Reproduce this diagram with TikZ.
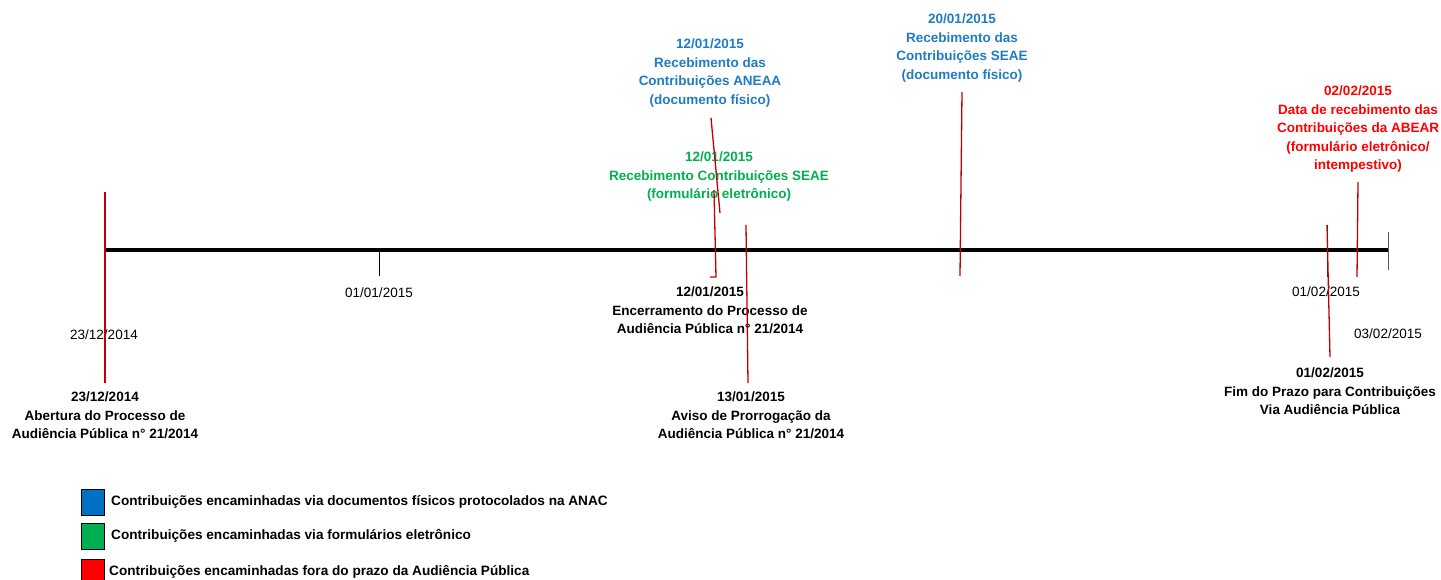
\documentclass[tikz,border=0pt]{standalone}
\usepackage{fontspec}
\setmainfont{Liberation Sans}
\usepackage{tikz}
\usetikzlibrary{positioning}
\definecolor{docblue}{HTML}{1F7BC4}
\definecolor{keyblue}{HTML}{0070C0}
\definecolor{formgreen}{HTML}{00B050}
\definecolor{latered}{HTML}{FF0000}
\definecolor{markred}{HTML}{C00000}
\tikzset{event/.style={font=\fontsize{13.5}{18.5}\selectfont\bfseries, align=center, anchor=north, inner sep=0}}
\tikzset{date/.style={font=\fontsize{13.5}{16}\selectfont, inner sep=0}}
\tikzset{marker/.style={draw=markred, line width=1.3pt}}
\tikzset{tick/.style={draw, line width=1pt}}
\tikzset{legend box/.style={draw, line width=1pt, minimum width=23pt, minimum height=26pt, inner sep=0}}
\tikzset{legend text/.style={font=\fontsize{13.6}{16}\selectfont\bfseries, anchor=west, inner sep=0}}

\begin{document}
\begin{tikzpicture}[x=1pt, y=-1pt]
  \useasboundingbox (0,0) rectangle (1441,580);

  % timeline
  \coordinate (start) at (105,250);
  \coordinate (end) at (1388,250);
  \draw[line width=4.5pt] (start) -- (end);

  \coordinate (jan1 top) at (379,252);
  \coordinate (jan1 bot) at (379,276);
  \coordinate (feb1 top) at (1327,225);
  \coordinate (feb1 bot) at (1327,277);
  \coordinate (feb3 top) at (1388,232);
  \coordinate (feb3 bot) at (1388,270);
  \draw[tick] (jan1 top) -- (jan1 bot);
  \draw[tick, gray!70!black] (feb3 top) -- (feb3 bot);
  \draw[tick, black!80] (feb1 top) -- (feb1 bot);

  \node[date] at (379,293) (jan1) {01/01/2015};
  \node[date] at (104,335) (dec23) {23/12/2014};
  \node[date] at (1326,292) (feb1) {01/02/2015};
  \node[date] at (1388,334) (feb3) {03/02/2015};

  % events below the line
  \node[event] at (105,392) (opening) {23/12/2014\\Abertura do Processo de\\Audiência Pública n° 21/2014};
  \node[event] at (710,287) (closing) {12/01/2015\\Encerramento do Processo de\\Audiência Pública n° 21/2014};
  \node[event] at (751,392) (extension) {13/01/2015\\Aviso de Prorrogação da\\Audiência Pública n° 21/2014};
  \node[event] at (1330,368) (deadline) {01/02/2015\\Fim do Prazo para Contribuições\\Via Audiência Pública};

  % events above the line
  \node[event, text=docblue] at (710,39) (aneaa) {12/01/2015\\Recebimento das\\Contribuições ANEAA\\(documento físico)};
  \node[event, text=formgreen] at (719,152) (seae form) {12/01/2015\\Recebimento Contribuições SEAE\\(formulário eletrônico)};
  \node[event, text=docblue] at (962,14) (seae doc) {20/01/2015\\Recebimento das\\Contribuições SEAE\\(documento físico)};
  \node[event, text=latered] at (1358,86) (abear) {02/02/2015\\Data de recebimento das\\Contribuições da ABEAR\\(formulário eletrônico/\\intempestivo)};

  % markers
  \coordinate (opening top) at (105,192);
  \coordinate (opening bot) at (105,383);
  \coordinate (aneaa top) at (711,118);
  \coordinate (aneaa bot) at (720,213);
  \coordinate (closing top) at (714,190);
  \coordinate (closing bot) at (716,277);
  \coordinate (closing hook) at (710,277);
  \coordinate (extension top) at (746,225);
  \coordinate (extension bot) at (748,383);
  \coordinate (seae top) at (962,92);
  \coordinate (seae bot) at (960,276);
  \coordinate (deadline top) at (1327,225);
  \coordinate (deadline bot) at (1330,357);
  \coordinate (abear top) at (1358,182);
  \coordinate (abear bot) at (1357,277);

  \draw[marker] (opening top) -- (opening bot);
  \draw[marker] (aneaa top) -- (aneaa bot);
  \draw[marker] (closing top) -- (closing bot) -- (closing hook);
  \draw[marker] (extension top) -- (extension bot);
  \draw[marker] (seae top) -- (seae bot);
  \draw[marker] (deadline top) -- (deadline bot);
  \draw[marker] (abear top) -- (abear bot);

  % legend
  \node[legend box, fill=keyblue] at (92.5,502) (key doc) {};
  \node[legend box, fill=formgreen] at (92.5,536) (key form) {};
  \node[legend box, fill=latered] at (92.5,572) (key late) {};
  \node[legend text] at (111,502) (text doc) {Contribuições encaminhadas via documentos físicos protocolados na ANAC};
  \node[legend text] at (111,536) (text form) {Contribuições encaminhadas via formulários eletrônico};
  \node[legend text] at (109,572) (text late) {Contribuições encaminhadas fora do prazo da Audiência Pública};
\end{tikzpicture}
\end{document}
